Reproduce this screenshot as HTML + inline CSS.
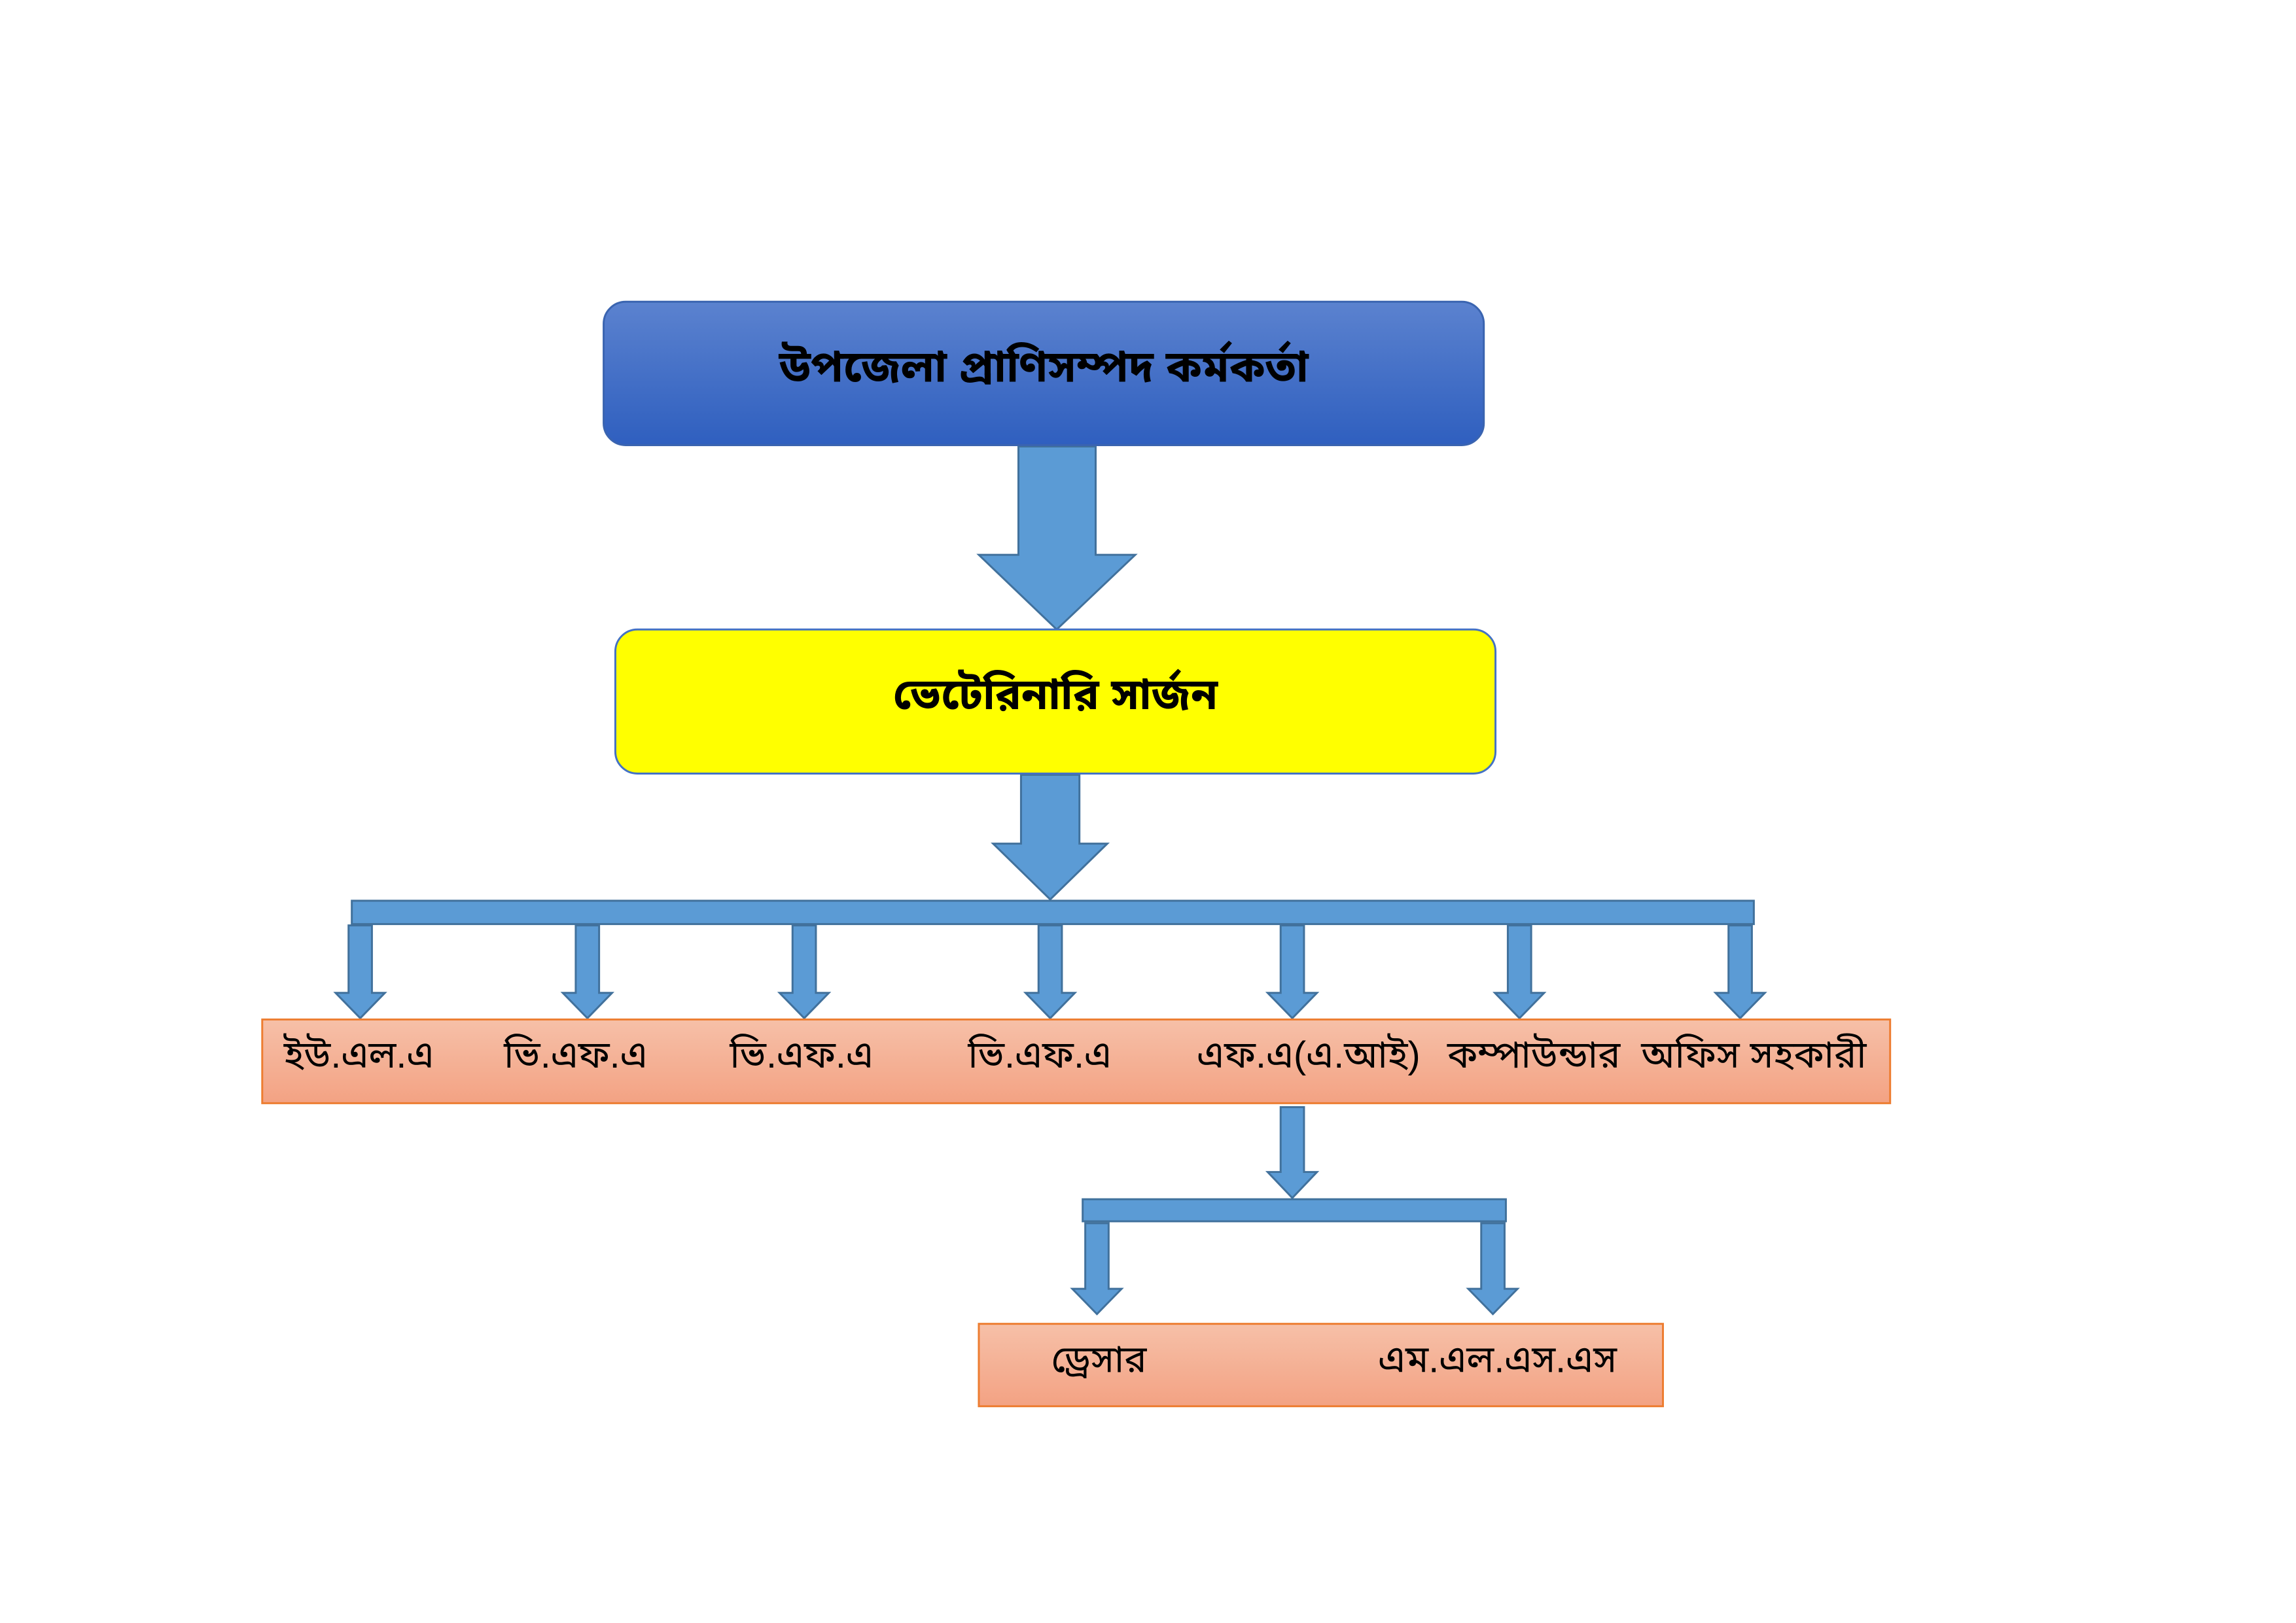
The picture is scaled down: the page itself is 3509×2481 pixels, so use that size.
<!DOCTYPE html>
<html><head><meta charset="utf-8"><style>
html,body{margin:0;padding:0;background:#fff;}
svg{display:block}
text{font-family:"Liberation Sans","Noto Sans Bengali","Lohit Bengali","Mukti",sans-serif;text-anchor:middle;dominant-baseline:middle;fill:#000}
</style></head><body>
<svg width="3509" height="2481" viewBox="0 0 3509 2481" xmlns="http://www.w3.org/2000/svg">
<defs>
<linearGradient id="bl" x1="0" y1="0" x2="0" y2="1"><stop offset="0" stop-color="#5b82cf"/><stop offset="1" stop-color="#2f5fbf"/></linearGradient>
<linearGradient id="or" x1="0" y1="0" x2="0" y2="1"><stop offset="0" stop-color="#f6c0a8"/><stop offset="1" stop-color="#f3a283"/></linearGradient>
</defs>
<g transform="scale(0.992)">
<g fill="#5b9bd5" stroke="#41719c" stroke-width="3">
<polygon points="1569,688 1688,688 1688,855 1749,855 1628,970 1508,855 1569,855"/>
<polygon points="1573,1194 1663,1194 1663,1300 1706,1300 1618,1386 1530,1300 1573,1300"/>
<rect x="542" y="1388" width="2160" height="36"/>
<rect x="1668" y="1848" width="652" height="34"/>
<polygon points="537,1426 573,1426 573,1530 593,1530 555,1569 517,1530 537,1530"/>
<polygon points="887,1426 923,1426 923,1530 943,1530 905,1569 867,1530 887,1530"/>
<polygon points="1221,1426 1257,1426 1257,1530 1277,1530 1239,1569 1201,1530 1221,1530"/>
<polygon points="1600,1426 1636,1426 1636,1530 1656,1530 1618,1569 1580,1530 1600,1530"/>
<polygon points="1973,1426 2009,1426 2009,1530 2029,1530 1991,1569 1953,1530 1973,1530"/>
<polygon points="2323,1426 2359,1426 2359,1530 2379,1530 2341,1569 2303,1530 2323,1530"/>
<polygon points="2663,1426 2699,1426 2699,1530 2719,1530 2681,1569 2643,1530 2663,1530"/>
<polygon points="1973,1706 2009,1706 2009,1806 2029,1806 1991,1846 1953,1806 1973,1806"/>
<polygon points="1672,1885 1708,1885 1708,1986 1728,1986 1690,2025 1652,1986 1672,1986"/>
<polygon points="2282,1885 2318,1885 2318,1986 2338,1986 2300,2025 2262,1986 2282,1986"/>
</g>
<rect x="930" y="465" width="1356" height="221" rx="34" fill="url(#bl)" stroke="#3a64b0" stroke-width="3"/>
<text x="1608" y="570" font-size="68" font-weight="bold">উপজেলা প্রাণিসম্পদ কর্মকর্তা</text>
<rect x="948" y="970" width="1356" height="222" rx="34" fill="#ffff00" stroke="#4472c4" stroke-width="3"/>
<text x="1626" y="1075" font-size="67" font-weight="bold">ভেটেরিনারি সার্জন</text>
<rect x="404" y="1571" width="2508" height="129" fill="url(#or)" stroke="#ed7d31" stroke-width="3"/>
<g font-size="58">
<text x="553" y="1630">ইউ.এল.এ</text>
<text x="887" y="1630">ভি.এফ.এ</text>
<text x="1235" y="1630">ভি.এফ.এ</text>
<text x="1602" y="1630">ভি.এফ.এ</text>
<text x="2016" y="1630">এফ.এ(এ.আই)</text>
<text x="2363" y="1630">কম্পাউন্ডার</text>
<text x="2702" y="1630">অফিস সহকারী</text>
</g>
<rect x="1508" y="2040" width="1054" height="127" fill="url(#or)" stroke="#ed7d31" stroke-width="3"/>
<g font-size="58">
<text x="1693" y="2099">ড্রেসার</text>
<text x="2307" y="2099">এম.এল.এস.এস</text>
</g>
</g>
</svg>
</body></html>
